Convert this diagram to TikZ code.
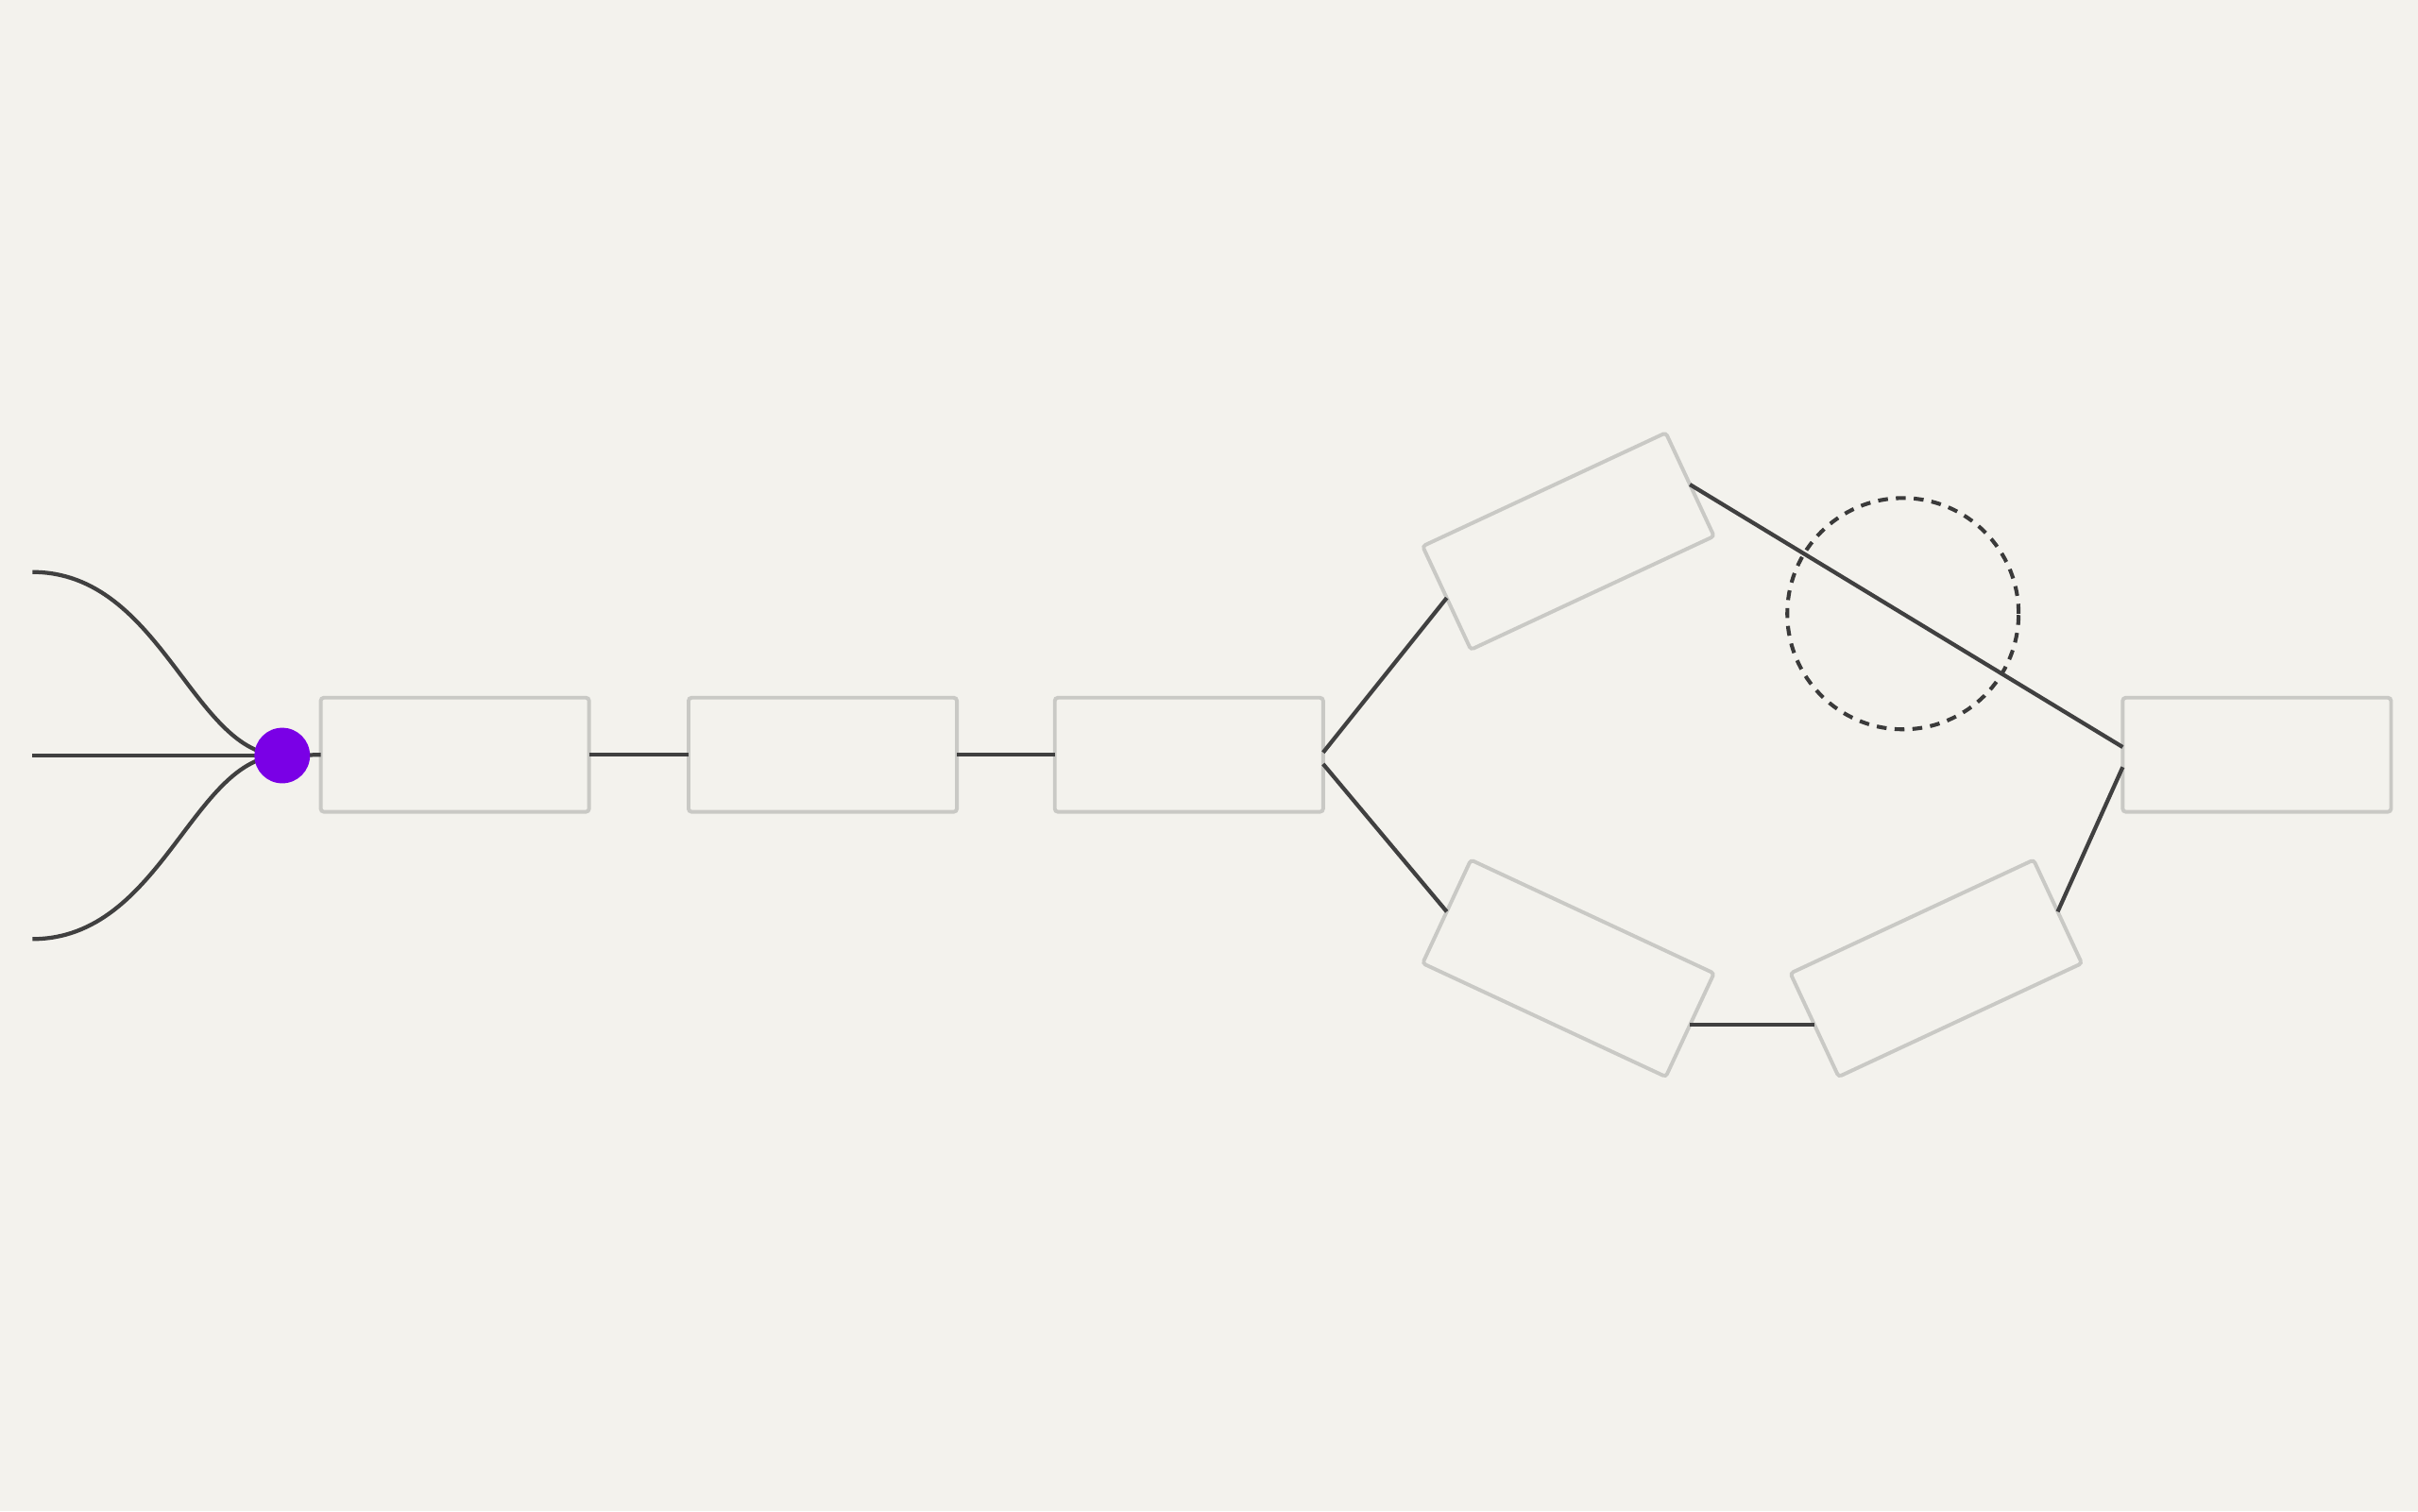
\documentclass[tikz,border=0pt]{standalone}
\definecolor{bg}{HTML}{F3F2ED}
\definecolor{wire}{HTML}{404040}
\definecolor{boxline}{HTML}{C9C9C5}
\definecolor{hub}{HTML}{7A00E6}
\definecolor{ringc}{HTML}{3A3A3A}
\tikzset{
  stagebox/.style={draw=boxline, line width=1.2pt, fill=bg, rounded corners=1pt,
    minimum width=87pt, minimum height=37pt, inner sep=0pt, outer sep=0pt},
  wireline/.style={draw=wire, line width=1.3pt},
  hubdot/.style={circle, fill=hub, minimum size=18pt, inner sep=0pt, outer sep=0pt},
  ringnode/.style={circle, draw=ringc, line width=1.25pt, dash pattern=on 3.2pt off 2.6pt,
    minimum size=75pt, inner sep=0pt}
}
\begin{document}
\begin{tikzpicture}[x=0.5pt, y=-0.5pt]
  \fill[bg] (0,0) rectangle (1568,980);
  \useasboundingbox (0,0) rectangle (1568,980);

  \coordinate (in1) at (21,371);
  \coordinate (in2) at (21,490);
  \coordinate (in3) at (21,609);
  \coordinate (hubc) at (183,490);

  \node[stagebox] (b1) at (295,489.5) {};
  \node[stagebox] (b2) at (533.5,489.5) {};
  \node[stagebox] (b3) at (771,489.5) {};
  \node[stagebox, rotate=25] (up) at (1017,351) {};
  \node[stagebox, rotate=-25] (lowl) at (1017,628) {};
  \node[stagebox, rotate=25] (lowr) at (1255.5,628) {};
  \node[stagebox] (out) at (1463.5,489.5) {};
  \node[ringnode] (ring) at (1234,398) {};

  \draw[wireline] (in1) .. controls (105,371) and (125,490) .. (hubc);
  \draw[wireline] (in3) .. controls (105,609) and (125,490) .. (hubc);
  \draw[wireline] (in2) -- (hubc);
  \draw[wireline] (hubc) -- (b1.west);
  \node[hubdot] (hub) at (hubc) {};

  \draw[wireline] (b1.east) -- (b2.west);
  \draw[wireline] (b2.east) -- (b3.west);
  \draw[wireline] ([yshift=0.75pt]b3.east) -- (up.west);
  \draw[wireline] ([yshift=-3pt]b3.east) -- (lowl.west);
  \draw[wireline] (lowl.east) -- (lowr.west);
  \draw[wireline] (up.east) -- ([yshift=2.5pt]out.west);
  \draw[wireline] (lowr.east) -- ([yshift=-4pt]out.west);
\end{tikzpicture}
\end{document}
